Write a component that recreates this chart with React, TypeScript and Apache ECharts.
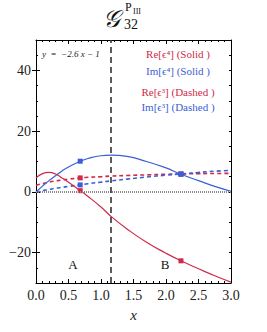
import React, { useEffect, useRef } from "react";
import * as echarts from "echarts";

// ---- data ----
const xs = [0, 0.1, 0.2, 0.3, 0.4, 0.5, 0.68, 0.8, 1.0, 1.15, 1.4, 1.7, 2.0, 2.23, 2.5, 2.75, 3.0];
const reEps4 = [4.6, 6.0, 6.4, 5.9, 4.6, 3.2, 0.4, -1.5, -5.0, -8.0, -12.2, -16.6, -20.2, -22.7, -25.3, -27.6, -29.7];
const imEps4 = [0, 1.9, 3.7, 5.3, 6.9, 8.2, 10.1, 11.0, 11.9, 12.1, 11.7, 10.0, 7.9, 5.8, 3.7, 1.8, 0.2];
const reEps3 = [2.2, 2.7, 3.2, 3.6, 3.9, 4.2, 4.6, 4.8, 5.0, 5.2, 5.4, 5.6, 5.8, 5.9, 6.0, 6.05, 6.1];
const imEps3 = [0, 0.4, 0.8, 1.2, 1.5, 1.8, 2.3, 2.7, 3.2, 3.6, 4.2, 4.9, 5.5, 5.9, 6.4, 6.8, 7.1];
const markerXs = [0.68, 2.23];
const dividerX = 1.15;
const xTicks = [0, 0.5, 1, 1.5, 2, 2.5, 3];
const yLabels = [-20, 0, 20, 40];
const legendTexts = ["Re[\u03f5\u2074] (Solid )", "Im[\u03f5\u2074] (Solid )", "Re[\u03f5\u00b3] (Dashed )", "Im[\u03f5\u00b3] (Dashed )"];

const RED = "#d02a4a";
const BLUE = "#3a5ed6";
const FONT = "Liberation Serif";

function pts(ys: number[]) {
  return xs.map((x, i) => ({
    value: [x, ys[i]],
    symbol: markerXs.includes(x) ? "rect" : "none",
  }));
}

export default function App() {
  const ref = useRef<HTMLDivElement>(null);
  useEffect(() => {
    const chart = echarts.init(ref.current!, null, { renderer: "svg" });
    const baseX = {
      type: "value" as const,
      min: 0,
      max: 3,
      interval: 0.5,
      axisLine: { show: true, onZero: false, lineStyle: { color: "#000", width: 1 } },
      axisTick: { show: true, inside: true, length: 4, lineStyle: { color: "#000" } },
      minorTick: { show: true, splitNumber: 5, length: 2, lineStyle: { color: "#000" } },
      splitLine: { show: false },
    };
    const baseY = {
      type: "value" as const,
      min: -30,
      max: 50,
      interval: 5,
      splitLine: { show: false },
    };
    const fmtY = (v: number) => (v < 0 ? "\u2212" + Math.abs(v) : String(v));
    const line = (name: string, ys: number[], color: string, dashed: boolean) => ({
      name,
      type: "line",
      smooth: true,
      data: pts(ys),
      symbolSize: 5,
      showSymbol: true,
      itemStyle: { color },
      lineStyle: { color, width: dashed ? 1.6 : 1.2, type: dashed ? [4, 3] : "solid" },
      z: 3,
    });
    const legendYs = [54, 71, 92, 107];
    const legendColors = [RED, BLUE, RED, BLUE];
    chart.setOption({
      animation: false,
      grid: { left: 36, right: 36, top: 40, bottom: 49 },
      xAxis: [
        {
          ...baseX,
          position: "bottom",
          axisLabel: {
            show: true,
            formatter: (v: number) => v.toFixed(1),
            fontFamily: FONT,
            fontSize: 14,
            color: "#222",
            margin: 5,
            customValues: xTicks,
          },
          name: "x",
          nameLocation: "middle",
          nameGap: 24,
          nameTextStyle: { fontFamily: FONT, fontStyle: "italic", fontSize: 15, color: "#222" },
        },
        { ...baseX, position: "top", axisLabel: { show: false } },
      ],
      yAxis: [
        {
          ...baseY,
          position: "left",
          axisLine: { show: true, onZero: false, lineStyle: { color: "#000", width: 1 } },
          axisTick: { show: true, inside: true, length: 2, lineStyle: { color: "#000" } },
          axisLabel: {
            show: true,
            customValues: yLabels,
            formatter: fmtY,
            fontFamily: FONT,
            fontSize: 14,
            color: "#222",
            margin: 5,
          },
        },
        {
          ...baseY,
          position: "left",
          axisLine: { show: false },
          axisTick: { show: true, inside: true, length: 4, customValues: yLabels, lineStyle: { color: "#000" } },
          axisLabel: { show: false },
        },
        {
          ...baseY,
          position: "right",
          axisLine: { show: true, onZero: false, lineStyle: { color: "#000", width: 1 } },
          axisTick: { show: true, inside: true, length: 2, lineStyle: { color: "#000" } },
          axisLabel: { show: false },
        },
        {
          ...baseY,
          position: "right",
          axisLine: { show: false },
          axisTick: { show: true, inside: true, length: 4, customValues: yLabels, lineStyle: { color: "#000" } },
          axisLabel: { show: false },
        },
      ],
      series: [
        {
          type: "line",
          data: [],
          silent: true,
          markLine: {
            symbol: "none",
            silent: true,
            label: { show: false },
            data: [
              { yAxis: 0, lineStyle: { color: "#8a8a8a", type: [1, 1], width: 2.2 } },
              { xAxis: dividerX, lineStyle: { color: "#333", type: [6, 4], width: 1.6 } },
            ],
          },
          z: 2,
        },
        line("Re eps3", reEps3, RED, true),
        line("Im eps3", imEps3, BLUE, true),
        line("Im eps4", imEps4, BLUE, false),
        line("Re eps4", reEps4, RED, false),
      ],
      graphic: [
        {
          type: "text",
          left: 103,
          top: 7,
          style: { text: "\u{1D4A2}", font: `italic 24px ${FONT}`, fill: "#111" },
        },
        {
          type: "text",
          left: 124,
          top: 17,
          style: { text: "32", font: `14px ${FONT}`, fill: "#111" },
        },
        {
          type: "text",
          left: 125,
          top: 1,
          style: { text: "P", font: `12px ${FONT}`, fill: "#111" },
        },
        {
          type: "text",
          left: 133,
          top: 7,
          style: { text: "III", font: `8px ${FONT}`, fill: "#111" },
        },
        {
          type: "text",
          left: 42,
          top: 49,
          style: { text: "y  =  \u22122.6 x \u2212 1", font: `italic 9px ${FONT}`, fill: "#222" },
        },
        ...legendTexts.map((t, i) => ({
          type: "text",
          x: 178,
          y: legendYs[i],
          style: {
            text: t,
            font: `11px ${FONT}`,
            fill: legendColors[i],
            align: "center",
            verticalAlign: "middle",
          },
        })),
        {
          type: "text",
          x: 73,
          y: 264,
          style: { text: "A", font: `13px ${FONT}`, fill: "#111", align: "center", verticalAlign: "middle" },
        },
        {
          type: "text",
          x: 165,
          y: 264,
          style: { text: "B", font: `13px ${FONT}`, fill: "#111", align: "center", verticalAlign: "middle" },
        },
      ],
    });
    return () => chart.dispose();
  }, []);
  return (
    <div
      ref={ref}
      style={{ position: "absolute", left: 0, top: 0, width: 267, height: 332, background: "#fff" }}
    />
  );
}
